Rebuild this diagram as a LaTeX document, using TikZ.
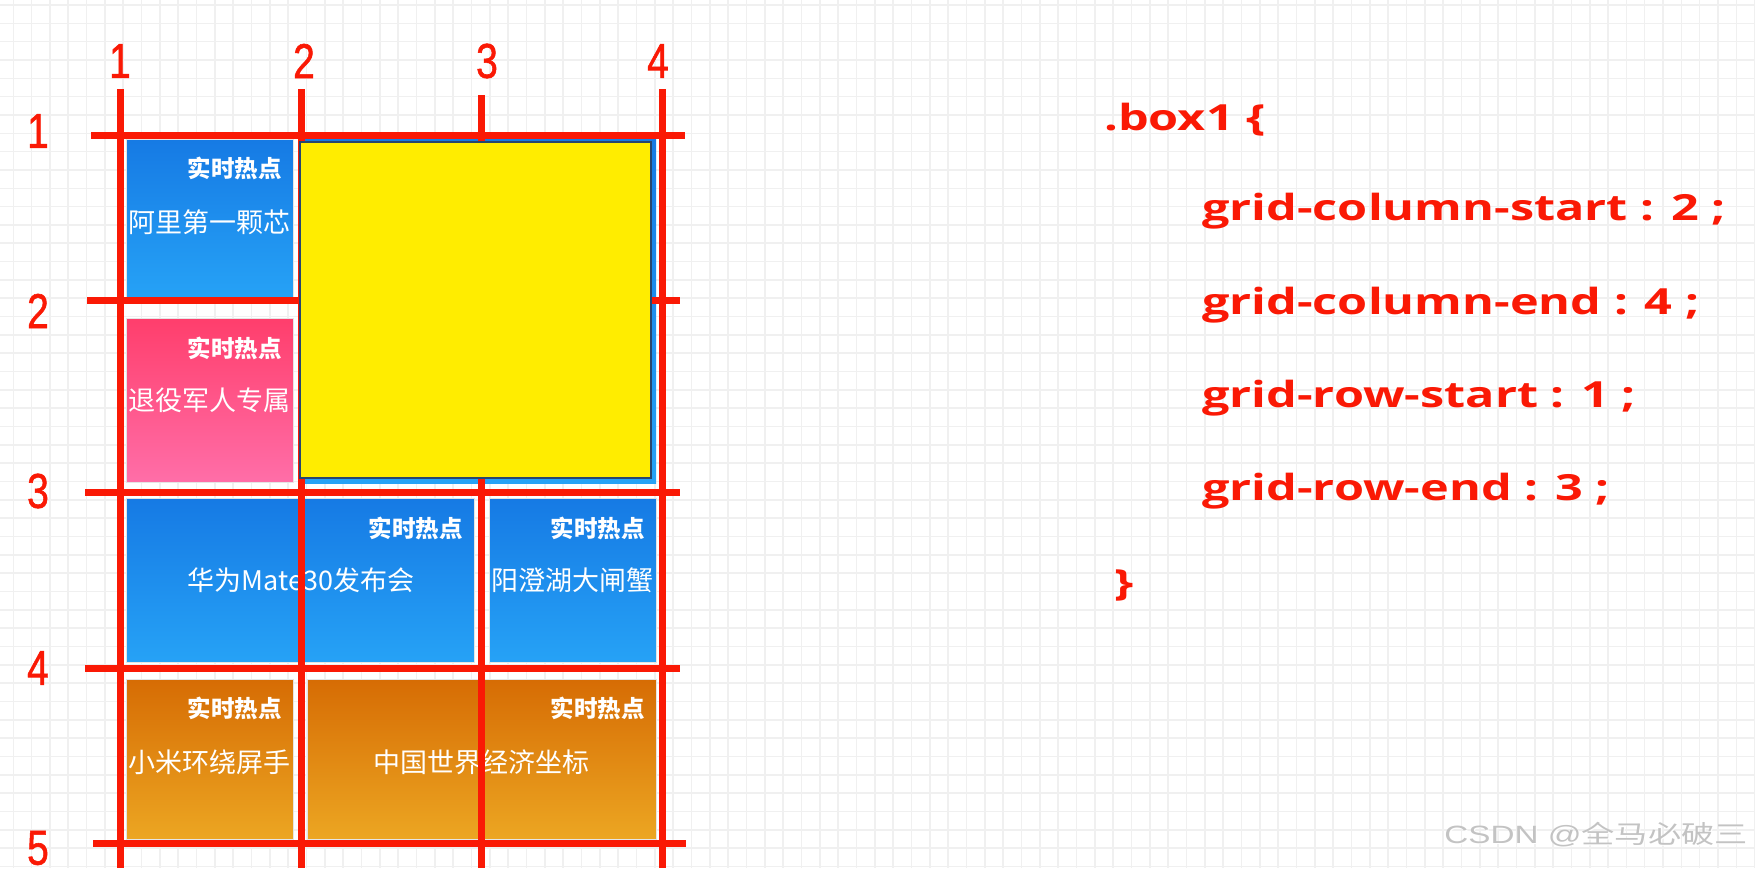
\documentclass[tikz,border=0pt]{standalone}
\usepackage{fontspec}
\usepackage{graphicx}
\newfontfamily\cjk{Noto Sans CJK SC}
\newfontfamily\codef{Open Sans}
\newfontfamily\numf{Liberation Sans}
\newfontfamily\numfb[FakeBold=1.2]{Liberation Sans}
\definecolor{redl}{RGB}{250,25,5}
\definecolor{gridc}{RGB}{240,240,240}
\definecolor{blueT}{RGB}{22,122,228}
\definecolor{blueB}{RGB}{38,162,246}
\definecolor{pinkT}{RGB}{255,62,108}
\definecolor{pinkB}{RGB}{255,110,168}
\definecolor{oranT}{RGB}{214,108,4}
\definecolor{oranB}{RGB}{236,166,34}
\definecolor{yel}{RGB}{255,237,0}
\definecolor{wm}{RGB}{195,195,195}
\newcommand{\cx}[1]{\scalebox{1.35}[1]{#1}}
\newcommand{\dg}[1]{\scalebox{0.8}[1]{#1}}
\tikzset{
  cell/.style={anchor=north west, inner sep=0pt, outer sep=0pt, draw=white!80!gray, line width=1pt},
  bluecell/.style={cell, top color=blueT, bottom color=blueB},
  pinkcell/.style={cell, top color=pinkT, bottom color=pinkB},
  orancell/.style={cell, top color=oranT, bottom color=oranB},
  tag/.style={anchor=east, inner sep=0pt, text=white, font=\cjk\bfseries\fontsize{23.5}{24}\selectfont},
  main/.style={anchor=center, inner sep=0pt, text=white, font=\cjk\fontsize{27}{27}\selectfont},
  redline/.style={draw=redl, line width=7pt},
  num/.style={inner sep=0pt, text=redl, font=\numfb\fontsize{49}{49}\selectfont},
  code/.style={anchor=base west, inner sep=0pt, text=redl, font=\codef\bfseries\fontsize{36}{36}\selectfont}
}
\begin{document}
\begin{tikzpicture}[x=1pt,y=-1pt]
\useasboundingbox (0,0) rectangle (1755,868);
\fill[white] (0,0) rectangle (1755,868);
% background grid
\foreach \i in {0,...,95} \draw[gridc, line width=1.6pt] ({13.3+18.33*\i},0) -- ++(0,868);
\foreach \j in {0,...,47} \draw[gridc, line width=1.6pt] (0,{5+18.33*\j}) -- ++(1755,0);

% cells
\node[bluecell, minimum width=167pt, minimum height=158pt] (A) at (126,139) {};
\node[pinkcell, minimum width=167pt, minimum height=164pt] (B) at (126,318) {};
\node[bluecell, minimum width=348pt, minimum height=164pt] (C) at (126,498) {};
\node[bluecell, minimum width=167pt, minimum height=164pt] (D) at (489,498) {};
\node[orancell, minimum width=167pt, minimum height=160pt] (E) at (126,679) {};
\node[orancell, minimum width=349pt, minimum height=160pt] (F) at (307,679) {};
\node[bluecell, draw=none, minimum width=355pt, minimum height=344pt] (Bx) at (301,139) {};

% texts
\node[tag] (tA) at (282,168) {实时热点};
\node[main] (mA) at (209,222) {阿里第一颗芯};
\node[tag] (tB) at (282,348) {实时热点};
\node[main] (mB) at (209,400) {退役军人专属};
\node[tag] (tC) at (463,528) {实时热点};
\node[main] (mC) at (301,580) {华为Mate30发布会};
\node[tag] (tD) at (645,528) {实时热点};
\node[main] (mD) at (572,580) {阳澄湖大闸蟹};
\node[tag] (tE) at (282,708) {实时热点};
\node[main] (mE) at (209,762) {小米环绕屏手};
\node[tag] (tF) at (645,708) {实时热点};
\node[main] (mF) at (481,762) {中国世界经济坐标};

% red grid lines
\draw[redline] (120,89) -- (120,868);
\draw[redline] (301,89) -- (301,868);
\draw[redline] (481,95) -- (481,868);
\draw[redline] (662,89) -- (662,868);
\draw[redline] (91,135) -- (685,135);
\draw[redline] (87,300) -- (680,300);
\draw[redline] (85,492) -- (680,492);
\draw[redline] (85,668) -- (680,668);
\draw[redline] (93,843) -- (686,843);

% yellow box1
\node[anchor=north west, inner sep=0pt, outer sep=0pt, fill=yel, draw={rgb,255:red,40;green,70;blue,110}, line width=1.3pt, minimum width=351pt, minimum height=336pt] (Y) at (300,142) {};

% line numbers
\node[num] (c1) at (120,61) {\dg{1}};
\node[num] (c2) at (304,61) {\dg{2}};
\node[num] (c3) at (487,61) {\dg{3}};
\node[num] (c4) at (658,61) {\dg{4}};
\node[num] (r1) at (38,131) {\dg{1}};
\node[num] (r2) at (38,311) {\dg{2}};
\node[num] (r3) at (38,491) {\dg{3}};
\node[num] (r4) at (38,668) {\dg{4}};
\node[num] (r5) at (38,848) {\dg{5}};

% code
\node[code] (k0) at (1104,130) {\cx{.box1 \{}};
\node[code] (k1) at (1202,220) {\cx{grid-column-start : 2 ;}};
\node[code] (k2) at (1202,314) {\cx{grid-column-end : 4 ;}};
\node[code] (k3) at (1202,407) {\cx{grid-row-start : 1 ;}};
\node[code] (k4) at (1202,500) {\cx{grid-row-end : 3 ;}};
\node[code] (k5) at (1114,595) {\cx{\}}};

% watermark
\node[anchor=east, inner sep=0pt, text=white] at (1749,836) {\scalebox{1.33}[1]{\numf\fontsize{25}{25}\selectfont CSDN @\cjk 全马必破三}};
\node[anchor=east, inner sep=0pt, text=wm] (wmk) at (1748,835) {\scalebox{1.33}[1]{\numf\fontsize{25}{25}\selectfont CSDN @\cjk 全马必破三}};
\end{tikzpicture}
\end{document}
